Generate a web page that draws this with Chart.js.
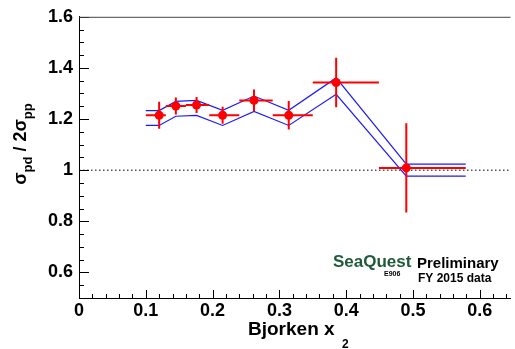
<!DOCTYPE html>
<html>
<head>
<meta charset="utf-8">
<script src="https://cdn.jsdelivr.net/npm/chart.js@4.4.1/dist/chart.umd.min.js"></script>
<style>
  html, body { margin: 0; padding: 0; background: #fff; }
  canvas { display: block; }
</style>
</head>
<body>
<canvas id="c" width="515" height="349"></canvas>
<script>
// measured points: ratio sigma_pd / 2 sigma_pp per x2 bin
const xVals  = [0.120, 0.145, 0.176, 0.215, 0.262, 0.314, 0.385, 0.490];
const yVals  = [1.215, 1.251, 1.255, 1.215, 1.273, 1.215, 1.343, 1.009];
const xLow   = [0.100, 0.130, 0.160, 0.195, 0.240, 0.290, 0.350, 0.449];
const xHigh  = [0.130, 0.160, 0.195, 0.240, 0.290, 0.350, 0.449, 0.579];
const yErr   = [0.053, 0.033, 0.031, 0.033, 0.043, 0.056, 0.097, 0.175];

// systematic band (blue lines)
const bandX  = [0.100, 0.120, 0.145, 0.176, 0.215, 0.262, 0.314, 0.385, 0.490, 0.579];
const bandUp = [1.233, 1.233, 1.269, 1.273, 1.234, 1.290, 1.234, 1.361, 1.024, 1.024];
const bandLo = [1.175, 1.175, 1.211, 1.214, 1.175, 1.230, 1.175, 1.297, 0.977, 0.977];

const xTicks = [0, 0.1, 0.2, 0.3, 0.4, 0.5, 0.6];
const xTickLabels = ['0', '0.1', '0.2', '0.3', '0.4', '0.5', '0.6'];
const yTicks = [0.6, 0.8, 1.0, 1.2, 1.4, 1.6];
const yTickLabels = ['0.6', '0.8', '1', '1.2', '1.4', '1.6'];

const X_MIN = 0, X_MAX = 0.646, Y_MIN = 0.5, Y_MAX = 1.6;
const FONT = '"Liberation Sans", Arial, Helvetica, sans-serif';

const pts = (xs, ys) => xs.map((x, i) => ({ x, y: ys[i] }));

// ROOT style: ticks inside the frame, frame on top
const frameTicks = {
  id: 'frameTicks',
  afterDatasetsDraw(chart) {
    const { ctx, chartArea: a, scales: { x, y } } = chart;
    ctx.save();
    ctx.strokeStyle = '#000';
    ctx.lineWidth = 1;
    ctx.beginPath();
    for (let i = 0; i <= 40; i++) {
      const v = i * 0.02;
      if (v > X_MAX + 1e-9) break;
      const px = Math.round(x.getPixelForValue(v)) + 0.5;
      const len = i % 5 === 0 ? 8 : 4;
      ctx.moveTo(px, a.bottom); ctx.lineTo(px, a.bottom - len);
    }
    for (let i = 0; i <= 22; i++) {
      const v = Y_MIN + i * 0.05;
      const py = Math.round(y.getPixelForValue(v)) + 0.5;
      const len = (i >= 2 && (i - 2) % 4 === 0) ? 10 : 5;
      ctx.moveTo(a.left, py); ctx.lineTo(a.left + len, py);
    }
    ctx.stroke();
    // top frame line
    ctx.strokeStyle = '#444';
    ctx.beginPath();
    ctx.moveTo(a.left, a.top + 0.5); ctx.lineTo(a.right, a.top + 0.5);
    ctx.stroke();
    ctx.restore();
  }
};

// red error bars for the measured points
const errorBars = {
  id: 'errorBars',
  afterDatasetsDraw(chart) {
    const { ctx, scales: { x, y } } = chart;
    ctx.save();
    ctx.strokeStyle = '#ff0000';
    ctx.lineWidth = 2;
    ctx.beginPath();
    xVals.forEach((xv, i) => {
      const px = x.getPixelForValue(xv), py = y.getPixelForValue(yVals[i]);
      ctx.moveTo(x.getPixelForValue(xLow[i]), py);
      ctx.lineTo(x.getPixelForValue(xHigh[i]), py);
      ctx.moveTo(px, y.getPixelForValue(yVals[i] + yErr[i]));
      ctx.lineTo(px, y.getPixelForValue(yVals[i] - yErr[i]));
    });
    ctx.stroke();
    ctx.restore();
  }
};

// axis titles with subscripts + SeaQuest label
const texts = {
  id: 'texts',
  afterDraw(chart) {
    const { ctx } = chart;
    ctx.save();
    ctx.fillStyle = '#000';
    ctx.textBaseline = 'alphabetic';
    ctx.textAlign = 'left';

    // x title
    ctx.font = 'bold 19px ' + FONT;
    ctx.fillText('Bjorken x', 248, 335);
    ctx.font = 'bold 12px ' + FONT;
    ctx.fillText('2', 342, 348);

    // y title, rotated
    const parts = [
      ['σ', 18, 0], ['pd', 13, 6], [' / 2', 18, 0], ['σ', 18, 0], ['pp', 13, 6]
    ];
    let total = 0;
    parts.forEach(p => { ctx.font = 'bold ' + p[1] + 'px ' + FONT; p.push(ctx.measureText(p[0]).width); total += p[3]; });
    ctx.translate(26, 144);
    ctx.rotate(-Math.PI / 2);
    let cx = -total / 2;
    parts.forEach(p => {
      ctx.font = 'bold ' + p[1] + 'px ' + FONT;
      ctx.fillText(p[0], cx, p[2]);
      cx += p[3];
    });
    ctx.setTransform(1, 0, 0, 1, 0, 0);

    // experiment label
    ctx.fillStyle = '#1f5a3a';
    ctx.font = 'bold 17px ' + FONT;
    ctx.fillText('SeaQuest', 333, 267);
    ctx.fillStyle = '#000';
    ctx.font = 'bold 7px ' + FONT;
    ctx.fillText('E906', 384, 276);
    ctx.font = 'bold 15px ' + FONT;
    ctx.fillText('Preliminary', 417, 268);
    ctx.font = 'bold 12px ' + FONT;
    ctx.fillText('FY 2015 data', 418, 282);
    ctx.restore();
  }
};

new Chart(document.getElementById('c'), {
  type: 'scatter',
  data: {
    datasets: [
      {
        label: 'data',
        data: pts(xVals, yVals),
        backgroundColor: '#ff0000',
        borderWidth: 0,
        pointRadius: 4.5,
        order: 0,
      },
      {
        type: 'line',
        label: 'band up',
        data: pts(bandX, bandUp),
        borderColor: '#1a1aff',
        borderWidth: 1.2,
        pointRadius: 0,
        tension: 0,
        fill: false,
        order: 2,
      },
      {
        type: 'line',
        label: 'band low',
        data: pts(bandX, bandLo),
        borderColor: '#1a1aff',
        borderWidth: 1.2,
        pointRadius: 0,
        tension: 0,
        fill: false,
        order: 2,
      },
      {
        type: 'line',
        label: 'unity',
        data: [{ x: X_MIN, y: 1 }, { x: X_MAX, y: 1 }],
        borderColor: '#000',
        borderWidth: 1,
        borderDash: [1.5, 2.5],
        pointRadius: 0,
        fill: false,
        order: 3,
      },
    ]
  },
  options: {
    responsive: false,
    animation: false,
    events: [],
    layout: { padding: { top: 16, right: 0, left: 0, bottom: 0 } },
    plugins: { legend: { display: false }, tooltip: { enabled: false } },
    scales: {
      x: {
        type: 'linear', min: X_MIN, max: X_MAX,
        grid: { display: false, drawTicks: false },
        border: { display: true, color: '#000', width: 1 },
        afterBuildTicks: s => { s.ticks = xTicks.map(v => ({ value: v })); },
        afterFit: s => { s.height = 51; },
        ticks: {
          autoSkip: false, maxRotation: 0, padding: 2, color: '#000',
          font: { family: FONT, size: 18, weight: 'bold' },
          callback: (v, i) => xTickLabels[i],
        },
      },
      y: {
        type: 'linear', min: Y_MIN, max: Y_MAX,
        grid: { display: false, drawTicks: false },
        border: { display: true, color: '#000', width: 1 },
        afterBuildTicks: s => { s.ticks = yTicks.map(v => ({ value: v })); },
        afterFit: s => { s.width = 79; },
        ticks: {
          autoSkip: false, padding: 6, color: '#000',
          font: { family: FONT, size: 18, weight: 'bold' },
          callback: (v, i) => yTickLabels[i],
        },
      },
    },
  },
  plugins: [frameTicks, errorBars, texts],
});
</script>
</body>
</html>
